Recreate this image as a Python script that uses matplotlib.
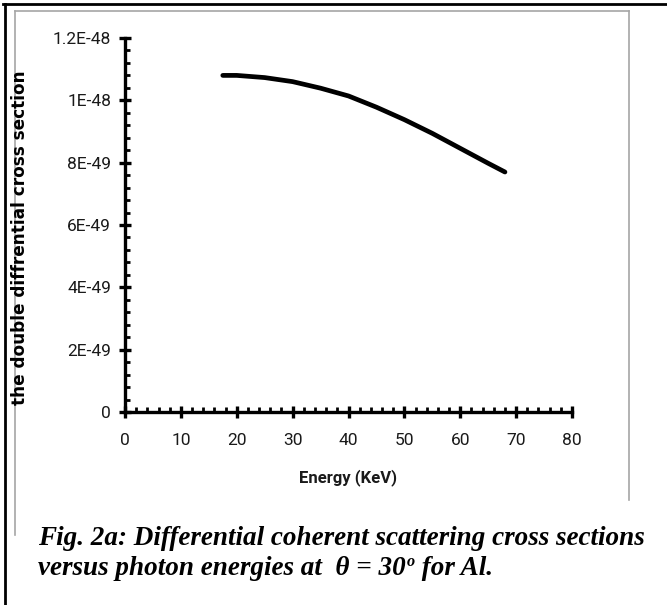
import matplotlib
matplotlib.use('Agg')
import matplotlib.pyplot as plt
from matplotlib.ticker import MultipleLocator, FixedLocator, FixedFormatter
from matplotlib.lines import Line2D

# ---- data ----
energy = [17.5, 20, 25, 30, 35, 40, 45, 50, 55, 60, 65, 68]
cross_section = [1.080e-48, 1.080e-48, 1.073e-48, 1.060e-48, 1.039e-48, 1.014e-48,
                 0.978e-48, 0.938e-48, 0.894e-48, 0.846e-48, 0.798e-48, 0.770e-48]
x_ticks = [0, 10, 20, 30, 40, 50, 60, 70, 80]
y_ticks = [0, 2e-49, 4e-49, 6e-49, 8e-49, 1e-48, 1.2e-48]
y_tick_labels = ['0', '2E-49', '4E-49', '6E-49', '8E-49', '1E-48', '1.2E-48']
x_label = 'Energy (KeV)'
y_label = 'the double diffrential cross section'
caption1 = 'Fig. 2a: Differential coherent scattering cross sections'
caption2a = 'versus photon energies at  \u03b8 = 30'
caption2b = 'o'
caption2c = ' for Al.'

W, H = 667, 605
fig = plt.figure(figsize=(W / 100, H / 100), dpi=100)
fig.patch.set_facecolor('white')

def fx(px):
    return px / W

def fy(py):
    return 1 - py / H

narrow = ['Roboto', 'DejaVu Sans']
serif = ['Liberation Serif', 'DejaVu Serif']

# frames
fig.add_artist(Line2D([fx(3), fx(667)], [fy(4), fy(4)], color='black', lw=2.0,
                      transform=fig.transFigure))
fig.add_artist(Line2D([fx(5), fx(5)], [fy(4), fy(605)], color='black', lw=2.0,
                      transform=fig.transFigure))
grey = '#a6a6a6'
fig.add_artist(Line2D([fx(15), fx(629)], [fy(11), fy(11)], color=grey, lw=1.2,
                      transform=fig.transFigure))
fig.add_artist(Line2D([fx(15), fx(15)], [fy(11), fy(535)], color=grey, lw=1.2,
                      transform=fig.transFigure))
fig.add_artist(Line2D([fx(629), fx(629)], [fy(11), fy(500)], color=grey, lw=1.2,
                      transform=fig.transFigure))

ax = fig.add_axes([fx(125), fy(412), (572 - 125) / W, (412 - 38) / H])
ax.plot(energy, cross_section, color='black', lw=3.4, solid_capstyle='round')
ax.set_xlim(0, 80)
ax.set_ylim(0, 1.2e-48)
for s in ['top', 'right']:
    ax.spines[s].set_visible(False)
for s in ['left', 'bottom']:
    ax.spines[s].set_linewidth(2.4)
ax.xaxis.set_major_locator(FixedLocator(x_ticks))
ax.xaxis.set_minor_locator(MultipleLocator(2))
ax.yaxis.set_major_locator(FixedLocator(y_ticks))
ax.yaxis.set_major_formatter(FixedFormatter(y_tick_labels))
ax.yaxis.set_minor_locator(MultipleLocator(4e-50))
ax.tick_params(which='major', direction='inout', length=8, width=2.4, color='black')
ax.tick_params(which='minor', direction='in', length=3.5, width=2.0, color='black')
ax.tick_params(axis='x', which='major', pad=11)
ax.tick_params(axis='y', which='major', pad=6)
for lab in ax.get_xticklabels() + ax.get_yticklabels():
    lab.set_family(narrow)
    lab.set_fontsize(12.5)
    lab.set_color('#1a1a1a')

fig.canvas.draw()
r = fig.canvas.get_renderer()

xl = fig.text(fx(348), fy(478), x_label, family=narrow, fontsize=12, color='#1a1a1a',
              ha='center', va='center', weight='bold')
yl = fig.text(fx(20), fy(238), y_label, family=['DejaVu Sans'], fontsize=10,
              weight='bold', rotation=90, ha='center', va='center', color='black')
bby = yl.get_window_extent(r)
yl.set_fontsize(10 * 335 / bby.height)

t1 = fig.text(fx(38), fy(545), caption1, family=serif, style='italic', weight='bold',
              fontsize=17, ha='left', va='baseline')
bb = t1.get_window_extent(r)
target = 647 - 38
t1.set_fontsize(17 * target / bb.width)
fs = t1.get_fontsize()

ta = fig.text(fx(38), fy(575), caption2a, family=serif, style='italic', weight='bold',
              fontsize=fs, ha='left', va='baseline')
bba = ta.get_window_extent(r)
tb = fig.text(bba.x1 / W + 0.001, fy(575) + 9 / H, caption2b, family=serif, style='italic',
              weight='bold', fontsize=fs * 0.6, ha='left', va='baseline')
bbb = tb.get_window_extent(r)
fig.text(bbb.x1 / W, fy(575), caption2c, family=serif, style='italic', weight='bold',
         fontsize=fs, ha='left', va='baseline')

fig.savefig('out.png', dpi=100, facecolor='white')
